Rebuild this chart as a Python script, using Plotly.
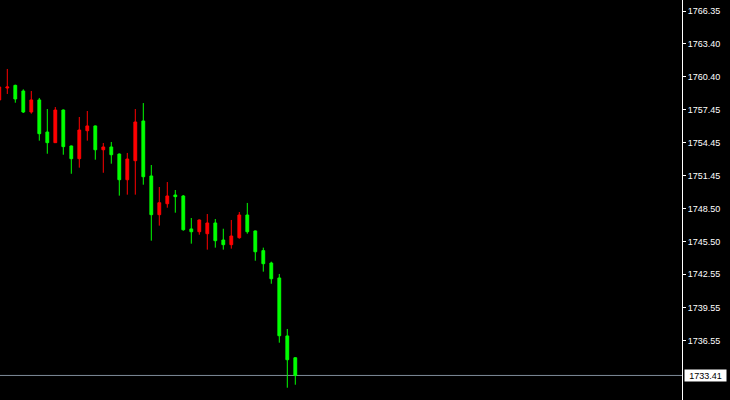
import plotly.graph_objects as go

# OHLC values (oldest -> newest)
opens = [1758.31, 1759.39, 1759.63, 1759.12, 1757.22, 1758.31, 1755.41, 1754.45, 1757.40, 1754.15,
         1753.00, 1755.53, 1755.96, 1753.81, 1754.06, 1753.42, 1751.10, 1752.82, 1756.41, 1751.44,
         1747.94, 1748.93, 1749.72, 1749.63, 1746.65, 1746.40, 1746.22, 1747.19, 1745.65, 1745.23,
         1745.86, 1747.91, 1746.47, 1744.69, 1743.57, 1742.22, 1736.98, 1735.01]
highs = [1759.57, 1761.11, 1759.69, 1759.27, 1759.12, 1758.49, 1757.49, 1757.67, 1757.45, 1754.19,
         1756.77, 1757.31, 1756.00, 1754.42, 1754.51, 1753.47, 1753.52, 1757.49, 1758.03, 1752.43,
         1750.44, 1750.89, 1750.17, 1749.72, 1747.64, 1747.51, 1748.00, 1747.55, 1746.67, 1747.46,
         1748.18, 1749.00, 1746.51, 1744.96, 1743.69, 1742.58, 1737.61, 1735.06]
lows = [1758.22, 1758.85, 1758.06, 1757.13, 1757.07, 1754.63, 1753.45, 1754.42, 1753.36, 1751.64,
        1752.19, 1754.63, 1752.91, 1751.73, 1752.55, 1749.66, 1749.75, 1749.75, 1750.65, 1745.59,
        1746.95, 1748.57, 1748.12, 1746.49, 1745.32, 1746.13, 1744.78, 1744.96, 1744.78, 1744.87,
        1745.77, 1746.22, 1743.78, 1742.79, 1741.70, 1736.37, 1732.30, 1732.57]
closes = [1759.48, 1759.48, 1758.40, 1757.22, 1758.31, 1755.26, 1754.45, 1757.40, 1754.09, 1753.00,
          1755.59, 1755.96, 1753.81, 1754.06, 1753.36, 1751.10, 1752.97, 1756.32, 1751.37, 1747.94,
          1749.02, 1749.63, 1749.57, 1746.58, 1746.40, 1747.46, 1747.19, 1745.59, 1745.23, 1746.01,
          1747.91, 1746.40, 1744.59, 1743.51, 1742.15, 1737.00, 1734.83, 1733.41]

tick_vals = [1766.35, 1763.40, 1760.40, 1757.45, 1754.45, 1751.45,
             1748.50, 1745.50, 1742.55, 1739.55, 1736.55]
tick_text = ["1766.35", "1763.40", "1760.40", "1757.45", "1754.45", "1751.45",
             "1748.50", "1745.50", "1742.55", "1739.55", "1736.55"]
last_price = 1733.41
last_label = "1733.41"

x = list(range(len(opens)))

fig = go.Figure(go.Candlestick(
    x=x, open=opens, high=highs, low=lows, close=closes,
    increasing=dict(line=dict(color="#FF0000", width=1), fillcolor="#FF0000"),
    decreasing=dict(line=dict(color="#00FF00", width=1), fillcolor="#00FF00"),
    whiskerwidth=0,
    hoverinfo="skip",
))

fig.add_shape(type="line", xref="paper", x0=0, x1=1, yref="y", y0=last_price, y1=last_price,
              line=dict(color="#7F8C99", width=1), layer="below")

fig.add_annotation(xref="paper", x=1, yref="y", y=last_price, text=last_label,
                   showarrow=False, xanchor="left", yanchor="middle", xshift=2,
                   bgcolor="#FFFFFF", font=dict(color="#000000", size=9, family="Liberation Sans"),
                   width=39, height=9, borderpad=1, align="center")

fig.update_layout(
    width=730, height=400,
    margin=dict(l=0, r=48, t=0, b=0),
    paper_bgcolor="#000000", plot_bgcolor="#000000",
    showlegend=False,
    boxgap=0.5,
    xaxis=dict(visible=False, range=[0.0875, 85.3375], rangeslider=dict(visible=False),
               fixedrange=True),
    yaxis=dict(side="right", range=[1731.19, 1767.344], showgrid=False, zeroline=False,
               showline=True, linecolor="#FFFFFF", linewidth=1,
               ticks="outside", ticklen=3, tickcolor="#FFFFFF", tickwidth=1,
               tickvals=tick_vals, ticktext=tick_text,
               tickfont=dict(color="#FFFFFF", size=9, family="Liberation Sans"),
               fixedrange=True),
)

fig.write_html(
    "out.html",
    config={"displayModeBar": False},
    post_script="document.body.style.margin='0';document.body.style.background='#000';",
)
